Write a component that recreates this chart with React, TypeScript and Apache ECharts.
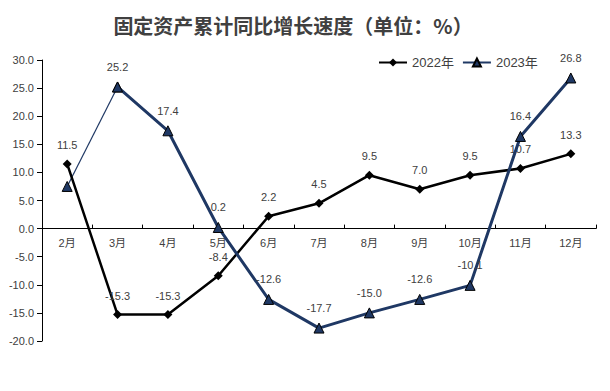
import React, { useEffect, useRef } from "react";
import * as echarts from "echarts";

const categories = ["2月", "3月", "4月", "5月", "6月", "7月", "8月", "9月", "10月", "11月", "12月"];
const values2022 = [11.5, -15.3, -15.3, -8.4, 2.2, 4.5, 9.5, 7.0, 9.5, 10.7, 13.3];
const values2023 = [7.5, 25.2, 17.4, 0.2, -12.6, -17.7, -15.0, -12.6, -10.1, 16.4, 26.8];
const yTicks = { min: -20, max: 30, interval: 5 };
const titleText = "固定资产累计同比增长速度（单位：%）";

const FONT = "'Liberation Sans', 'Noto Sans CJK SC', sans-serif";
const NAVY = "#1f3864";
const TXT = "#404040";

export default function App() {
  const ref = useRef<HTMLDivElement>(null);
  useEffect(() => {
    if (!ref.current) return;
    const chart = echarts.init(ref.current, undefined, { renderer: "svg" });
    const thick2023 = values2023.map((v, i) => (i === 0 ? "-" : v));
    const thin2023 = values2023.map((v, i) => (i <= 1 ? v : "-"));
    const labelCfg = {
      show: true,
      position: "top" as const,
      distance: 9,
      color: TXT,
      fontSize: 11,
      fontFamily: FONT,
      formatter: (p: any) => Number(p.value).toFixed(1),
    };
    const gridTop = 60;
    const gridBottom = 50;
    const plotH = 391 - gridTop - gridBottom;
    const zeroFromBottom = (plotH * (0 - yTicks.min)) / (yTicks.max - yTicks.min);
    chart.setOption({
      animation: false,
      backgroundColor: "#ffffff",
      title: {
        text: titleText,
        left: 288,
        textAlign: "center",
        top: 10,
        textStyle: {
          fontFamily: "'Noto Sans CJK SC', sans-serif",
          fontSize: 20,
          fontWeight: "bold",
          color: "#404040",
        },
      },
      legend: {
        data: ["2022年", "2023年"],
        left: 373,
        top: 51,
        itemWidth: 28,
        itemHeight: 10,
        itemGap: 8,
        textStyle: { fontFamily: FONT, fontSize: 13, color: TXT },
      },
      grid: { left: 42, right: 14, top: gridTop, bottom: gridBottom, containLabel: false },
      xAxis: {
        type: "category",
        data: categories,
        boundaryGap: true,
        axisLine: { onZero: true, lineStyle: { color: "#000", width: 1 } },
        axisTick: { show: true, inside: true, length: 4, lineStyle: { color: "#000" } },
        axisLabel: {
          color: TXT,
          fontSize: 11,
          fontFamily: FONT,
          margin: 9 - zeroFromBottom,
        },
        splitLine: { show: false },
      },
      yAxis: {
        type: "value",
        min: yTicks.min,
        max: yTicks.max,
        interval: yTicks.interval,
        axisLine: { show: true, lineStyle: { color: "#000", width: 1 } },
        axisTick: { show: true, length: 5, lineStyle: { color: "#000" } },
        axisLabel: {
          color: TXT,
          fontSize: 11,
          fontFamily: FONT,
          margin: 8,
          formatter: (v: number) => v.toFixed(1),
        },
        splitLine: { show: false },
      },
      series: [
        {
          name: "2023年",
          type: "line",
          data: thin2023,
          symbol: "triangle",
          symbolSize: 10,
          lineStyle: { color: NAVY, width: 1.2 },
          itemStyle: { color: NAVY, borderColor: "#000", borderWidth: 1 },
          label: { ...labelCfg, show: false },
          z: 2,
        },
        {
          name: "2022年",
          type: "line",
          data: values2022,
          symbol: "diamond",
          symbolSize: 9,
          lineStyle: { color: "#000", width: 2.5 },
          itemStyle: { color: "#000" },
          label: labelCfg,
          z: 3,
        },
        {
          name: "2023年",
          type: "line",
          data: thick2023,
          symbol: "triangle",
          symbolSize: 10,
          lineStyle: { color: NAVY, width: 3 },
          itemStyle: { color: NAVY, borderColor: "#000", borderWidth: 1 },
          label: labelCfg,
          z: 4,
        },
        {
          name: "2023年label",
          type: "line",
          data: values2023.map((v, i) => (i === 0 ? v : "-")),
          symbol: "none",
          lineStyle: { opacity: 0 },
          label: labelCfg,
          z: 5,
        },
      ],
    });
    return () => chart.dispose();
  }, []);
  return (
    <div
      ref={ref}
      style={{ position: "absolute", left: 0, top: 0, width: 610, height: 391 }}
    />
  );
}
